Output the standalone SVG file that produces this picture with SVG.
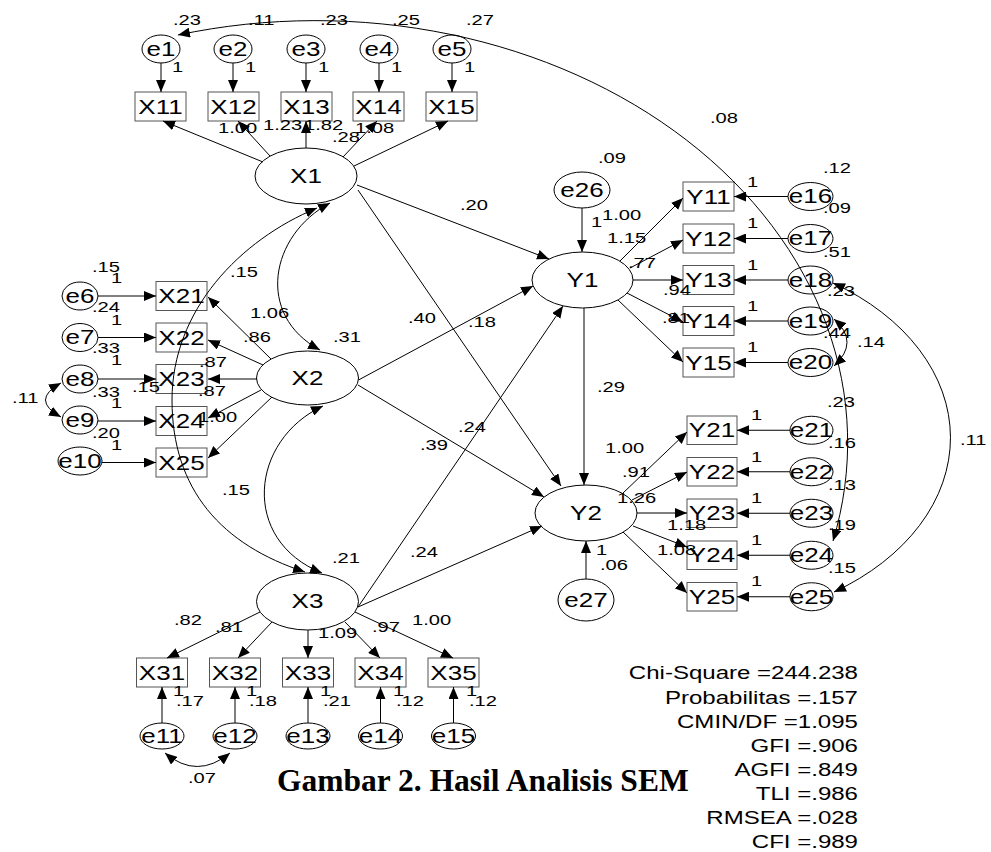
<svg xmlns="http://www.w3.org/2000/svg" width="991" height="852" viewBox="0 0 991 852">
<defs>
<marker id="ah" viewBox="0 0 12 10" refX="12" refY="5" markerWidth="12" markerHeight="10" markerUnits="userSpaceOnUse" orient="auto-start-reverse"><path d="M0,0 L12,5 L0,10 Z" fill="#000"/></marker>
<style>
.l{stroke:#000;stroke-width:1;fill:none;marker-end:url(#ah)}
.c{stroke:#000;stroke-width:1;fill:none;marker-start:url(#ah);marker-end:url(#ah)}
.b{fill:none;stroke:#555;stroke-width:1}
.o{fill:none;stroke:#000;stroke-width:1}
text{font-family:"Liberation Sans",Arial,sans-serif;fill:#000;transform-box:fill-box}
.n{font-size:20px;text-anchor:middle;transform-origin:50% 50%;transform:scaleX(1.3)}
.v{font-size:15.5px;transform-origin:0% 50%;transform:scaleX(1.3)}
.s{font-size:18.5px;text-anchor:end;transform-origin:100% 50%;transform:scaleX(1.3)}
.cap{font-family:"Liberation Serif","Times New Roman",serif;font-size:31.5px;font-weight:bold}
</style>
</defs>
<rect width="991" height="852" fill="#fff"/>

<g id="nodes">
<g id="e1"><ellipse class="o" cx="161" cy="49" rx="19" ry="14"/><text class="n" x="161" y="56">e1</text></g>
<g id="e2"><ellipse class="o" cx="233" cy="49" rx="19" ry="14"/><text class="n" x="233" y="56">e2</text></g>
<g id="e3"><ellipse class="o" cx="306" cy="49" rx="19" ry="14"/><text class="n" x="306" y="56">e3</text></g>
<g id="e4"><ellipse class="o" cx="379" cy="49" rx="19" ry="14"/><text class="n" x="379" y="56">e4</text></g>
<g id="e5"><ellipse class="o" cx="452" cy="49" rx="19" ry="14"/><text class="n" x="452" y="56">e5</text></g>
<g id="X11"><rect class="b" x="135" y="92" width="51" height="29"/><text class="n" x="160.5" y="114">X11</text></g>
<g id="X12"><rect class="b" x="208" y="92" width="51" height="29"/><text class="n" x="233.5" y="114">X12</text></g>
<g id="X13"><rect class="b" x="281" y="92" width="51" height="29"/><text class="n" x="306.5" y="114">X13</text></g>
<g id="X14"><rect class="b" x="353" y="92" width="51" height="29"/><text class="n" x="378.5" y="114">X14</text></g>
<g id="X15"><rect class="b" x="426" y="92" width="51" height="29"/><text class="n" x="451.5" y="114">X15</text></g>
<g id="X1"><ellipse class="o" cx="306" cy="176" rx="51" ry="28"/><text class="n" x="306" y="183">X1</text></g>

<g id="e6"><ellipse class="o" cx="80" cy="296" rx="18" ry="14"/><text class="n" x="80" y="303">e6</text></g>
<g id="e7"><ellipse class="o" cx="80" cy="337.5" rx="18" ry="14"/><text class="n" x="80" y="344.5">e7</text></g>
<g id="e8"><ellipse class="o" cx="80" cy="379" rx="18" ry="14"/><text class="n" x="80" y="386">e8</text></g>
<g id="e9"><ellipse class="o" cx="80" cy="420" rx="18" ry="14"/><text class="n" x="80" y="427">e9</text></g>
<g id="e10"><ellipse class="o" cx="80" cy="461" rx="22" ry="14"/><text class="n" x="80" y="468">e10</text></g>
<g id="X21"><rect class="b" x="156" y="281.5" width="51" height="29"/><text class="n" x="181.5" y="303.2">X21</text></g>
<g id="X22"><rect class="b" x="156" y="323" width="51" height="29"/><text class="n" x="181.5" y="344.7">X22</text></g>
<g id="X23"><rect class="b" x="156" y="364.5" width="51" height="29"/><text class="n" x="181.5" y="386.2">X23</text></g>
<g id="X24"><rect class="b" x="156" y="406.5" width="51" height="29"/><text class="n" x="181.5" y="428.2">X24</text></g>
<g id="X25"><rect class="b" x="156" y="448" width="51" height="29"/><text class="n" x="181.5" y="469.7">X25</text></g>
<g id="X2"><ellipse class="o" cx="307.5" cy="378" rx="51" ry="27"/><text class="n" x="307.5" y="385">X2</text></g>

<g id="X3"><ellipse class="o" cx="307.5" cy="601.5" rx="51" ry="28.5"/><text class="n" x="307.5" y="608.5">X3</text></g>
<g id="X31"><rect class="b" x="136.5" y="658" width="51" height="29"/><text class="n" x="162" y="680">X31</text></g>
<g id="X32"><rect class="b" x="209.5" y="658" width="51" height="29"/><text class="n" x="235" y="680">X32</text></g>
<g id="X33"><rect class="b" x="282.5" y="658" width="51" height="29"/><text class="n" x="308" y="680">X33</text></g>
<g id="X34"><rect class="b" x="355" y="658" width="51" height="29"/><text class="n" x="380.5" y="680">X34</text></g>
<g id="X35"><rect class="b" x="428" y="658" width="51" height="29"/><text class="n" x="453.5" y="680">X35</text></g>
<g id="e11"><ellipse class="o" cx="162" cy="736" rx="22" ry="13"/><text class="n" x="162" y="743">e11</text></g>
<g id="e12"><ellipse class="o" cx="235" cy="736" rx="22" ry="13"/><text class="n" x="235" y="743">e12</text></g>
<g id="e13"><ellipse class="o" cx="308" cy="736" rx="22" ry="13"/><text class="n" x="308" y="743">e13</text></g>
<g id="e14"><ellipse class="o" cx="380.5" cy="736" rx="22" ry="13"/><text class="n" x="380.5" y="743">e14</text></g>
<g id="e15"><ellipse class="o" cx="453.5" cy="736" rx="22" ry="13"/><text class="n" x="453.5" y="743">e15</text></g>

<g id="e26"><ellipse class="o" cx="582" cy="190" rx="28" ry="18"/><text class="n" x="582" y="197">e26</text></g>
<g id="Y1"><ellipse class="o" cx="582.5" cy="280" rx="50.5" ry="28"/><text class="n" x="582.5" y="287">Y1</text></g>
<g id="Y11"><rect class="b" x="683" y="182" width="51" height="29"/><text class="n" x="708.5" y="203.7">Y11</text></g>
<g id="Y12"><rect class="b" x="683" y="224" width="51" height="29"/><text class="n" x="708.5" y="245.7">Y12</text></g>
<g id="Y13"><rect class="b" x="683" y="265.5" width="51" height="29"/><text class="n" x="708.5" y="287.2">Y13</text></g>
<g id="Y14"><rect class="b" x="683" y="306.5" width="51" height="29"/><text class="n" x="708.5" y="328.2">Y14</text></g>
<g id="Y15"><rect class="b" x="683" y="348" width="51" height="29"/><text class="n" x="708.5" y="369.7">Y15</text></g>
<g id="e16"><ellipse class="o" cx="810.5" cy="196.5" rx="22.5" ry="14"/><text class="n" x="810.5" y="203.5">e16</text></g>
<g id="e17"><ellipse class="o" cx="810.5" cy="238.5" rx="22.5" ry="14"/><text class="n" x="810.5" y="245.5">e17</text></g>
<g id="e18"><ellipse class="o" cx="810.5" cy="280" rx="22.5" ry="14"/><text class="n" x="810.5" y="287">e18</text></g>
<g id="e19"><ellipse class="o" cx="810.5" cy="321" rx="22.5" ry="14"/><text class="n" x="810.5" y="328">e19</text></g>
<g id="e20"><ellipse class="o" cx="810.5" cy="362.5" rx="22.5" ry="14"/><text class="n" x="810.5" y="369.5">e20</text></g>

<g id="Y2"><ellipse class="o" cx="586" cy="513" rx="51" ry="28"/><text class="n" x="586" y="520">Y2</text></g>
<g id="e27"><ellipse class="o" cx="586" cy="600" rx="28" ry="21"/><text class="n" x="586" y="607">e27</text></g>
<g id="Y21"><rect class="b" x="687" y="416" width="50" height="28.5"/><text class="n" x="712" y="437.5">Y21</text></g>
<g id="Y22"><rect class="b" x="687" y="457.5" width="50" height="28.5"/><text class="n" x="712" y="479">Y22</text></g>
<g id="Y23"><rect class="b" x="687" y="499" width="50" height="28.5"/><text class="n" x="712" y="520.5">Y23</text></g>
<g id="Y24"><rect class="b" x="687" y="541" width="50" height="28.5"/><text class="n" x="712" y="562.5">Y24</text></g>
<g id="Y25"><rect class="b" x="687" y="582.5" width="50" height="28.5"/><text class="n" x="712" y="604">Y25</text></g>
<g id="e21"><ellipse class="o" cx="811.5" cy="430.25" rx="21.5" ry="14"/><text class="n" x="811.5" y="437.25">e21</text></g>
<g id="e22"><ellipse class="o" cx="811.5" cy="471.75" rx="21.5" ry="14"/><text class="n" x="811.5" y="478.75">e22</text></g>
<g id="e23"><ellipse class="o" cx="811.5" cy="513.25" rx="21.5" ry="14"/><text class="n" x="811.5" y="520.25">e23</text></g>
<g id="e24"><ellipse class="o" cx="811.5" cy="555.25" rx="21.5" ry="14"/><text class="n" x="811.5" y="562.25">e24</text></g>
<g id="e25"><ellipse class="o" cx="811.5" cy="596.75" rx="21.5" ry="14"/><text class="n" x="811.5" y="603.75">e25</text></g>
</g>

<g id="connectors">
<line class="l" x1="161" y1="63" x2="161" y2="92"/>
<line class="l" x1="233" y1="63" x2="233" y2="92"/>
<line class="l" x1="306" y1="63" x2="306" y2="92"/>
<line class="l" x1="379" y1="63" x2="379" y2="92"/>
<line class="l" x1="452" y1="63" x2="452" y2="92"/>
<line class="l" x1="263" y1="162" x2="163" y2="121"/>
<line class="l" x1="270" y1="156" x2="238" y2="121"/>
<line class="l" x1="306" y1="148" x2="306" y2="121"/>
<line class="l" x1="343" y1="157" x2="377" y2="121"/>
<line class="l" x1="354" y1="166" x2="448" y2="121"/>
<line class="l" x1="98" y1="296" x2="156" y2="296"/>
<line class="l" x1="98" y1="337.5" x2="156" y2="337.5"/>
<line class="l" x1="98" y1="379" x2="156" y2="379"/>
<line class="l" x1="98" y1="421" x2="156" y2="421"/>
<line class="l" x1="102" y1="462.5" x2="156" y2="462.5"/>
<line class="l" x1="271" y1="359" x2="208" y2="297"/>
<line class="l" x1="263" y1="365" x2="208" y2="340"/>
<line class="l" x1="257" y1="379" x2="208" y2="379"/>
<line class="l" x1="261" y1="390" x2="208" y2="418"/>
<line class="l" x1="272" y1="397" x2="208" y2="458"/>
<line class="l" x1="260" y1="612" x2="167" y2="658"/>
<line class="l" x1="272" y1="622" x2="238" y2="658"/>
<line class="l" x1="308" y1="630" x2="308" y2="658"/>
<line class="l" x1="345" y1="622" x2="380" y2="658"/>
<line class="l" x1="355" y1="612" x2="453" y2="658"/>
<line class="l" x1="162" y1="723" x2="162" y2="687"/>
<line class="l" x1="235" y1="723" x2="235" y2="687"/>
<line class="l" x1="308" y1="723" x2="308" y2="687"/>
<line class="l" x1="380.5" y1="723" x2="380.5" y2="687"/>
<line class="l" x1="453.5" y1="723" x2="453.5" y2="687"/>
<line class="l" x1="357" y1="185" x2="549" y2="259"/>
<line class="l" x1="358" y1="190" x2="561" y2="486"/>
<line class="l" x1="358.5" y1="380" x2="533" y2="286"/>
<line class="l" x1="358" y1="385" x2="544" y2="497"/>
<line class="l" x1="358" y1="607" x2="563" y2="306"/>
<line class="l" x1="358" y1="607" x2="542" y2="526"/>
<line class="l" x1="584" y1="308" x2="584" y2="485"/>
<line class="l" x1="582" y1="208" x2="582" y2="252"/>
<line class="l" x1="586" y1="579" x2="586" y2="541"/>
<line class="l" x1="620" y1="261" x2="683" y2="198"/>
<line class="l" x1="630" y1="268" x2="683" y2="240"/>
<line class="l" x1="633" y1="280" x2="683" y2="280"/>
<line class="l" x1="627" y1="293" x2="683" y2="322"/>
<line class="l" x1="618" y1="300" x2="683" y2="362"/>
<line class="l" x1="788" y1="196.5" x2="734" y2="196.5"/>
<line class="l" x1="788" y1="238.5" x2="734" y2="238.5"/>
<line class="l" x1="788" y1="280" x2="734" y2="280"/>
<line class="l" x1="788" y1="321" x2="734" y2="321"/>
<line class="l" x1="788" y1="362.5" x2="734" y2="362.5"/>
<line class="l" x1="623" y1="493" x2="687" y2="432"/>
<line class="l" x1="632" y1="500" x2="687" y2="472"/>
<line class="l" x1="637" y1="513" x2="687" y2="513"/>
<line class="l" x1="633" y1="526" x2="687" y2="547"/>
<line class="l" x1="623" y1="532" x2="687" y2="593"/>
<line class="l" x1="790" y1="430.25" x2="737" y2="430.25"/>
<line class="l" x1="790" y1="471.75" x2="737" y2="471.75"/>
<line class="l" x1="790" y1="513.25" x2="737" y2="513.25"/>
<line class="l" x1="790" y1="555.25" x2="737" y2="555.25"/>
<line class="l" x1="790" y1="596.75" x2="737" y2="596.75"/>
<path class="c" d="M317,208 C240,240 172,310 172,400 C172,490 222,545 305,572"/>
<path class="c" d="M330,203 C270,235 255,315 320,350"/>
<path class="c" d="M323,406 C250,440 240,540 322,573"/>
<path class="c" d="M61,383 Q30,400 61,417"/>
<path class="c" d="M165,753 Q197,780 230,753"/>
<path class="c" d="M178,35 A532,422 0 0 1 833,541"/>
<path class="c" d="M833,283 A256,184 0 0 1 834,592"/>
<path class="c" d="M834,319 Q860,342 834,366"/>
</g>

<g id="labels">
<text class="v" x="173" y="25">.23</text>
<text class="v" x="248" y="25">.11</text>
<text class="v" x="320" y="25">.23</text>
<text class="v" x="392" y="25">.25</text>
<text class="v" x="466" y="25">.27</text>
<text class="v" x="172" y="72">1</text>
<text class="v" x="245" y="72">1</text>
<text class="v" x="318" y="72">1</text>
<text class="v" x="391" y="72">1</text>
<text class="v" x="464" y="72">1</text>
<text class="v" x="218" y="133">1.00</text>
<text class="v" x="263" y="130">1.23</text>
<text class="v" x="304" y="130">1.82</text>
<text class="v" x="355" y="133">1.08</text>
<text class="v" x="332" y="142">.28</text>
<text class="v" x="710" y="123">.08</text>
<text class="v" x="598" y="163">.09</text>
<text class="v" x="591" y="227">1</text>
<text class="v" x="602" y="220">1.00</text>
<text class="v" x="460" y="210">.20</text>
<text class="v" x="408" y="323">.40</text>
<text class="v" x="468" y="327">.18</text>
<text class="v" x="333" y="342">.31</text>
<text class="v" x="597" y="392">.29</text>
<text class="v" x="458" y="432">.24</text>
<text class="v" x="420" y="450">.39</text>
<text class="v" x="332" y="563">.21</text>
<text class="v" x="410" y="557">.24</text>
<text class="v" x="230" y="277">.15</text>
<text class="v" x="250" y="318">1.06</text>
<text class="v" x="222" y="495">.15</text>
<text class="v" x="92" y="272">.15</text>
<text class="v" x="111" y="283">1</text>
<text class="v" x="92" y="312">.24</text>
<text class="v" x="111" y="325">1</text>
<text class="v" x="92" y="353">.33</text>
<text class="v" x="111" y="365">1</text>
<text class="v" x="92" y="397">.33</text>
<text class="v" x="111" y="408">1</text>
<text class="v" x="92" y="438">.20</text>
<text class="v" x="111" y="450">1</text>
<text class="v" x="12" y="403">.11</text>
<text class="v" x="132" y="392">.15</text>
<text class="v" x="243" y="342">.86</text>
<text class="v" x="199" y="367">.87</text>
<text class="v" x="198" y="396">.87</text>
<text class="v" x="198" y="422">1.00</text>
<text class="v" x="174" y="625">.82</text>
<text class="v" x="215" y="632">.81</text>
<text class="v" x="318" y="638">1.09</text>
<text class="v" x="372" y="632">.97</text>
<text class="v" x="412" y="625">1.00</text>
<text class="v" x="173" y="696">1</text>
<text class="v" x="246" y="696">1</text>
<text class="v" x="320" y="696">1</text>
<text class="v" x="393" y="696">1</text>
<text class="v" x="466" y="696">1</text>
<text class="v" x="176" y="706">.17</text>
<text class="v" x="249" y="706">.18</text>
<text class="v" x="323" y="706">.21</text>
<text class="v" x="396" y="706">.12</text>
<text class="v" x="469" y="706">.12</text>
<text class="v" x="188" y="783">.07</text>
<text class="v" x="747" y="187">1</text>
<text class="v" x="747" y="228">1</text>
<text class="v" x="747" y="270">1</text>
<text class="v" x="747" y="311">1</text>
<text class="v" x="747" y="352">1</text>
<text class="v" x="823" y="173">.12</text>
<text class="v" x="823" y="213">.09</text>
<text class="v" x="823" y="257">.51</text>
<text class="v" x="827" y="296">.23</text>
<text class="v" x="823" y="338">.44</text>
<text class="v" x="857" y="347">.14</text>
<text class="v" x="607" y="243">1.15</text>
<text class="v" x="628" y="268">.77</text>
<text class="v" x="663" y="295">.94</text>
<text class="v" x="662" y="323">.81</text>
<text class="v" x="751" y="420">1</text>
<text class="v" x="751" y="462">1</text>
<text class="v" x="751" y="503">1</text>
<text class="v" x="751" y="545">1</text>
<text class="v" x="751" y="586">1</text>
<text class="v" x="827" y="407">.23</text>
<text class="v" x="828" y="448">.16</text>
<text class="v" x="828" y="490">.13</text>
<text class="v" x="828" y="530">.19</text>
<text class="v" x="828" y="573">.15</text>
<text class="v" x="960" y="445">.11</text>
<text class="v" x="605" y="453">1.00</text>
<text class="v" x="622" y="477">.91</text>
<text class="v" x="617" y="503">1.26</text>
<text class="v" x="667" y="530">1.18</text>
<text class="v" x="657" y="555">1.08</text>
<text class="v" x="596" y="555">1</text>
<text class="v" x="600" y="570">.06</text>
</g>

<g id="fit">
<text class="s" x="858" y="679.5">Chi-Square =244.238</text>
<text class="s" x="858" y="703.6">Probabilitas =.157</text>
<text class="s" x="858" y="727.7">CMIN/DF =1.095</text>
<text class="s" x="858" y="751.8">GFI =.906</text>
<text class="s" x="858" y="775.9">AGFI =.849</text>
<text class="s" x="858" y="800">TLI =.986</text>
<text class="s" x="858" y="824.1">RMSEA =.028</text>
<text class="s" x="858" y="848.2">CFI =.989</text>
</g>
<text class="cap" x="277" y="791">Gambar 2. Hasil Analisis SEM</text>
</svg>
